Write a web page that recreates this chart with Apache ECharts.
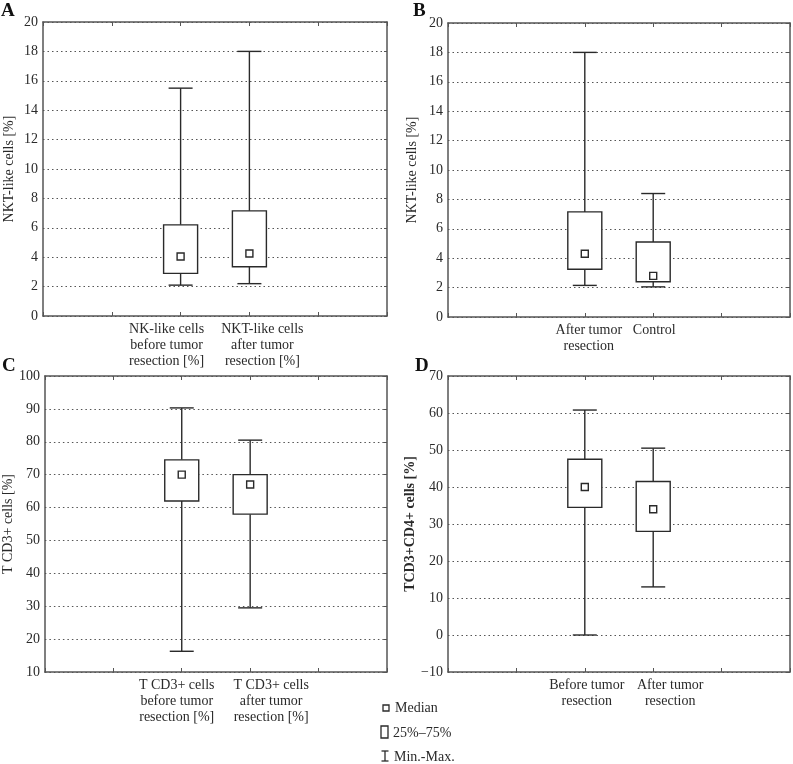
<!DOCTYPE html>
<html>
<head>
<meta charset="utf-8">
<script src="https://cdn.jsdelivr.net/npm/echarts@6/dist/echarts.min.js"></script>
<style>
html,body{margin:0;padding:0;background:#fff;}
#chart{width:793px;height:764px;}
</style>
</head>
<body>
<div id="chart"></div>
<script>
// ---------- data ----------
const catsA = ['NK-like cells\nbefore tumor\nresection [%]', 'NKT-like cells\nafter tumor\nresection [%]'];
const minA = [2.1, 2.2];
const q1A = [2.9, 3.35];
const medA = [4.05, 4.25];
const q3A = [6.2, 7.15];
const maxA = [15.5, 18.0];

const catsB = ['After tumor\nresection', 'Control'];
const minB = [2.15, 2.05];
const q1B = [3.25, 2.4];
const medB = [4.3, 2.8];
const q3B = [7.15, 5.1];
const maxB = [18.0, 8.4];

const catsC = ['T CD3+ cells\nbefore tumor\nresection [%]', 'T CD3+ cells\nafter tumor\nresection [%]'];
const minC = [16.3, 29.5];
const q1C = [62.0, 58.0];
const medC = [70.0, 67.0];
const q3C = [74.5, 70.0];
const maxC = [90.3, 80.5];

const catsD = ['Before tumor\nresection', 'After tumor\nresection'];
const minD = [0, 13.0];
const q1D = [34.5, 28.0];
const medD = [40.0, 34.0];
const q3D = [47.5, 41.5];
const maxD = [60.8, 50.5];

const yNames = ['NKT-like cells [%]', 'NKT-like cells [%]', 'T CD3+ cells [%]', 'TCD3+CD4+ cells [%]'];
const yMin = [0, 0, 10, -10];
const yMax = [20, 20, 100, 70];
const yStep = [2, 2, 10, 10];
const panelLetters = ['A', 'B', 'C', 'D'];
const legendLabels = ['Median', '25%\u201375%', 'Min.-Max.'];

// ---------- layout ----------
const FONT = 'Liberation Serif';
const INK = '#2a2a2a';
const grids = [
  {left: 43, top: 22, width: 344, height: 294},
  {left: 448, top: 23, width: 343, height: 294},
  {left: 43, top: 376, width: 344, height: 296},
  {left: 448, top: 376, width: 344, height: 296}
];
const nameGaps = [27, 29, 26, 27];
const labelShift = [[-14, 13], [4, 1], [-5, 21], [2, 17]];
const letterPos = [[1, 2], [413, 2], [2, 357], [415, 357]];

const panels = [
  {cats: catsA, mn: minA, q1: q1A, md: medA, q3: q3A, mx: maxA},
  {cats: catsB, mn: minB, q1: q1B, md: medB, q3: q3B, mx: maxB},
  {cats: catsC, mn: minC, q1: q1C, md: medC, q3: q3C, mx: maxC},
  {cats: catsD, mn: minD, q1: q1D, md: medD, q3: q3D, mx: maxD}
];

const option = {
  backgroundColor: '#fff',
  animation: false,
  textStyle: {fontFamily: FONT},
  grid: grids,
  xAxis: [],
  yAxis: [],
  series: [],
  graphic: []
};

function renderBox(params, api) {
  const x = api.value(0);
  const pMin = api.coord([x, api.value(1)]);
  const pQ1 = api.coord([x, api.value(2)]);
  const pMed = api.coord([x, api.value(3)]);
  const pQ3 = api.coord([x, api.value(4)]);
  const pMax = api.coord([x, api.value(5)]);
  const cx = pMin[0];
  const bw = 34, cw = 24, ms = 7;
  const st = {stroke: INK, lineWidth: 1.4, fill: null};
  return {
    type: 'group',
    children: [
      {type: 'line', shape: {x1: cx, y1: pMin[1], x2: cx, y2: pQ1[1]}, style: st},
      {type: 'line', shape: {x1: cx, y1: pQ3[1], x2: cx, y2: pMax[1]}, style: st},
      {type: 'line', shape: {x1: cx - cw / 2, y1: pMin[1], x2: cx + cw / 2, y2: pMin[1]}, style: st},
      {type: 'line', shape: {x1: cx - cw / 2, y1: pMax[1], x2: cx + cw / 2, y2: pMax[1]}, style: st},
      {type: 'rect', shape: {x: cx - bw / 2, y: pQ3[1], width: bw, height: pQ1[1] - pQ3[1]}, style: {stroke: INK, lineWidth: 1.4, fill: '#fff'}},
      {type: 'rect', shape: {x: cx - ms / 2, y: pMed[1] - ms / 2, width: ms, height: ms}, style: {stroke: INK, lineWidth: 1.4, fill: '#fff'}}
    ]
  };
}

panels.forEach(function (p, i) {
  const cats = ['', '', p.cats[0], p.cats[1], '', ''];
  const sh = labelShift[i];
  const rich = {};
  [0, 1].forEach(function (k) {
    const s = sh[k];
    rich['t' + k] = {
      fontFamily: FONT, fontSize: 14, color: INK, lineHeight: 16,
      padding: s < 0 ? [0, -2 * s, 0, 0] : [0, 0, 0, 2 * s]
    };
  });
  option.xAxis.push({
    type: 'category', gridIndex: i, data: cats, boundaryGap: false, position: 'bottom',
    axisLine: {onZero: false, lineStyle: {color: '#555', width: 1.5}},
    axisTick: {show: true, inside: true, length: 4, lineStyle: {color: '#555'}, interval: 0},
    splitLine: {show: false},
    axisLabel: {
      interval: 0, margin: 5,
      formatter: function (v, idx) {
        if (!v) return '';
        const k = idx - 2;
        return v.split('\n').map(function (line) { return '{t' + k + '|' + line + '}'; }).join('\n');
      },
      rich: rich
    }
  });
  option.xAxis.push({
    type: 'category', gridIndex: i, data: cats, boundaryGap: false, position: 'top',
    axisLine: {onZero: false, lineStyle: {color: '#555', width: 1.5}},
    axisTick: {show: true, inside: true, length: 4, lineStyle: {color: '#555'}, interval: 0},
    axisLabel: {show: false},
    splitLine: {show: false}
  });
  option.yAxis.push({
    type: 'value', gridIndex: i, min: yMin[i], max: yMax[i], interval: yStep[i], position: 'left',
    name: yNames[i], nameLocation: 'middle', nameGap: nameGaps[i], nameRotate: 90,
    nameTextStyle: {fontFamily: FONT, fontSize: 14, color: INK, fontWeight: i === 3 ? 'bold' : 'normal'},
    axisLine: {show: true, onZero: false, lineStyle: {color: '#555', width: 1.5}},
    axisTick: {show: false},
    axisLabel: {
      fontFamily: FONT, fontSize: 14, color: INK, margin: 5,
      formatter: function (v) { return String(v).replace('-', '\u2212'); }
    },
    splitLine: {show: true, lineStyle: {type: [1.5, 3], color: '#555', width: 1}}
  });
  option.yAxis.push({
    type: 'value', gridIndex: i, min: yMin[i], max: yMax[i], interval: yStep[i], position: 'right',
    axisLine: {show: true, onZero: false, lineStyle: {color: '#555', width: 1.5}},
    axisTick: {show: true, inside: true, length: 3, lineStyle: {color: '#555'}},
    axisLabel: {show: false},
    splitLine: {show: false}
  });
  const data = [0, 1].map(function (k) {
    return [k + 2, p.mn[k], p.q1[k], p.md[k], p.q3[k], p.mx[k]];
  });
  option.series.push({
    type: 'custom', xAxisIndex: 2 * i, yAxisIndex: 2 * i,
    renderItem: renderBox, data: data, clip: false,
    encode: {x: 0, y: [1, 2, 3, 4, 5]}
  });
  option.graphic.push({
    type: 'text', left: letterPos[i][0], top: letterPos[i][1],
    style: {text: panelLetters[i], font: 'bold 19px ' + FONT, fill: '#111'}
  });
});

// legend (drawn as graphic)
option.graphic.push(
  {type: 'rect', shape: {x: 383, y: 705, width: 6, height: 6}, style: {stroke: INK, lineWidth: 1.3, fill: '#fff'}},
  {type: 'text', x: 395, y: 708, style: {text: legendLabels[0], font: '14px ' + FONT, fill: INK, textVerticalAlign: 'middle'}},
  {type: 'rect', shape: {x: 381, y: 726, width: 7, height: 12}, style: {stroke: INK, lineWidth: 1.3, fill: '#fff'}},
  {type: 'text', x: 393, y: 733, style: {text: legendLabels[1], font: '14px ' + FONT, fill: INK, textVerticalAlign: 'middle'}},
  {type: 'line', shape: {x1: 385, y1: 751, x2: 385, y2: 761}, style: {stroke: INK, lineWidth: 1.3}},
  {type: 'line', shape: {x1: 381.5, y1: 751, x2: 388.5, y2: 751}, style: {stroke: INK, lineWidth: 1.3}},
  {type: 'line', shape: {x1: 381.5, y1: 761, x2: 388.5, y2: 761}, style: {stroke: INK, lineWidth: 1.3}},
  {type: 'text', x: 394, y: 757, style: {text: legendLabels[2], font: '14px ' + FONT, fill: INK, textVerticalAlign: 'middle'}}
);

const chart = echarts.init(document.getElementById('chart'), null, {renderer: 'canvas'});
chart.setOption(option);
</script>
</body>
</html>
